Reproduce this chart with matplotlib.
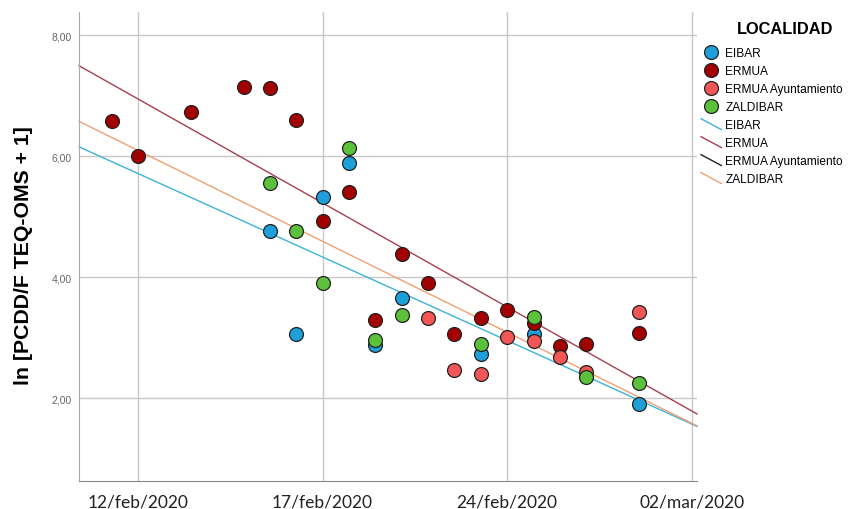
import numpy as np
import matplotlib
matplotlib.use("Agg")
import matplotlib.pyplot as plt
from matplotlib.lines import Line2D
from matplotlib.legend_handler import HandlerBase

plt.rcParams["font.family"] = ["Liberation Sans", "DejaVu Sans"]

# day index relative to the 12/feb gridline
eibar_day = [5, 6, 7, 8, 9, 10, 13, 15, 19]
eibar_val = [4.76, 3.07, 5.33, 5.89, 2.88, 3.65, 2.73, 3.07, 1.91]

ermua_day = [-1, 0, 2, 4, 5, 6, 7, 8, 9, 10, 11, 12, 13, 14, 15, 16, 17, 19]
ermua_val = [6.58, 6.01, 6.73, 7.14, 7.12, 6.60, 4.93, 5.40, 3.29, 4.38,
             3.91, 3.06, 3.32, 3.46, 3.24, 2.86, 2.90, 3.08]

ayto_day = [11, 12, 13, 14, 15, 16, 17, 19]
ayto_val = [3.33, 2.46, 2.41, 3.02, 2.95, 2.69, 2.43, 3.43]

zald_day = [5, 6, 7, 8, 9, 10, 13, 15, 17, 19]
zald_val = [5.55, 4.76, 3.90, 6.14, 2.97, 3.37, 2.90, 3.35, 2.36, 2.26]

tick_days = [0, 7, 14, 21]
tick_labels = ["12/feb/2020", "17/feb/2020", "24/feb/2020", "02/mar/2020"]
y_ticks = [2, 4, 6, 8]
y_tick_labels = ["2,00", "4,00", "6,00", "8,00"]

groups = [
    ("EIBAR", eibar_day, eibar_val, "#1e9fd9", "#3cb4d6", True),
    ("ERMUA", ermua_day, ermua_val, "#a30000", "#a5404e", True),
    ("ERMUA Ayuntamiento", ayto_day, ayto_val, "#f25656", "#222222", False),
    ("ZALDIBAR", zald_day, zald_val, "#5cc13a", "#f0a070", True),
]

X0, X1 = -2.24, 21.2
Y0, Y1 = 0.635, 8.38


class DiagLine(HandlerBase):
    # SPSS draws the fit-line legend keys as a short slanted stroke
    def create_artists(self, legend, orig, xdescent, ydescent, width,
                       height, fontsize, trans):
        ln = Line2D([-xdescent, width - xdescent],
                    [height * 1.1 - ydescent, -ydescent * 0.5 - height * 0.2],
                    color=orig.get_color(), linewidth=orig.get_linewidth(),
                    transform=trans)
        return [ln]


fig = plt.figure(figsize=(8.64, 5.10), dpi=100)
ax = fig.add_axes([79 / 864, 28 / 510, (697 - 79) / 864, (482 - 13) / 510])

ax.set_xlim(X0, X1)
ax.set_ylim(Y0, Y1)
ax.set_xticks(tick_days)
ax.set_xticklabels(tick_labels, fontsize=12.5, color="#222222",
                   family="Lato")
ax.set_yticks(y_ticks)
ax.set_yticklabels(y_tick_labels, fontsize=7.5, color="#666666")
ax.tick_params(length=0, pad=5)
ax.tick_params(axis="x", pad=9)
ax.grid(True, color="#c8c8c8", linewidth=1.0)
ax.set_axisbelow(True)
for side in ("top", "right"):
    ax.spines[side].set_visible(False)
ax.spines["left"].set_color("#aaaaaa")
ax.spines["bottom"].set_color("#888888")

ax.set_ylabel("ln [PCDD/F TEQ-OMS + 1]", fontsize=15.3, fontweight="bold")
ax.yaxis.set_label_coords(-0.074, 0.483)

xs = np.array([X0, X1])
for name, d, v, mcol, lcol, fit in groups:
    if fit:
        b, a = np.polyfit(d, v, 1)
        ax.plot(xs, a + b * xs, color=lcol, linewidth=1.0, zorder=2,
                clip_on=False)
for name, d, v, mcol, lcol, fit in groups:
    ax.scatter(d, v, s=100, color=mcol, edgecolor="#222222", linewidth=0.9,
               zorder=3)

handles = []
labels = []
for name, d, v, mcol, lcol, fit in groups:
    handles.append(Line2D([], [], linestyle="none", marker="o", markersize=10,
                          markerfacecolor=mcol, markeredgecolor="#222222",
                          markeredgewidth=0.9))
    labels.append(name)
line_handles = []
for name, d, v, mcol, lcol, fit in groups:
    h = Line2D([], [], color=lcol, linewidth=1.0)
    line_handles.append(h)
    handles.append(h)
    labels.append(name)

fig.text(785 / 864, 1 - 30 / 510, "LOCALIDAD", ha="center", va="center",
         fontsize=11.8, fontweight="bold")
leg = fig.legend(handles, labels, loc="upper left",
                 bbox_to_anchor=(701 / 864, 1 - 48 / 510), frameon=False,
                 fontsize=8.6, handlelength=1.7, handletextpad=0.35,
                 labelspacing=0.5, borderaxespad=0, borderpad=0,
                 handler_map={h: DiagLine() for h in line_handles})

fig.savefig("out.png", dpi=100)
